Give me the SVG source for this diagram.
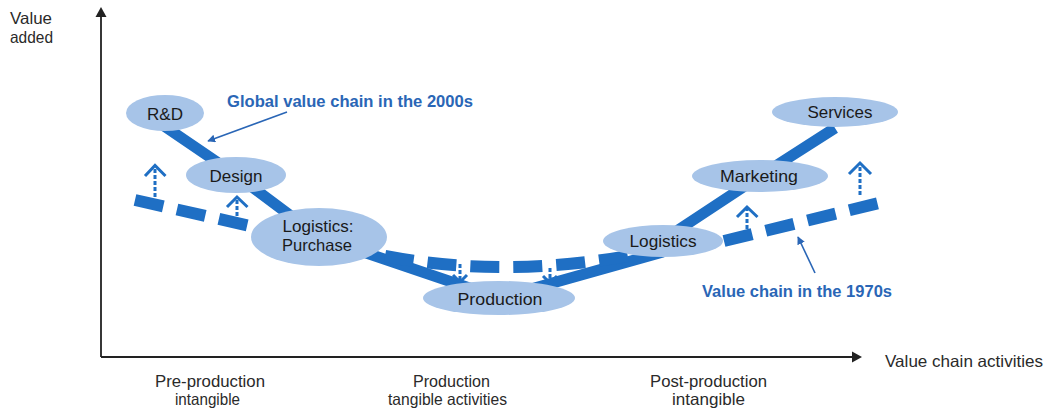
<svg xmlns="http://www.w3.org/2000/svg" width="1045" height="411" viewBox="0 0 1045 411">
<defs>
<style>
.axis{stroke:#222;stroke-width:1.8;fill:none}
.solid{stroke:#1f6fc4;stroke-width:11;fill:none;stroke-linejoin:round}
.dash{stroke:#1f6fc4;stroke-width:12;fill:none;stroke-dasharray:29 14}
.shaft{stroke:#1f6fc4;stroke-width:3;fill:none;stroke-dasharray:4 2}
.chev{stroke:#1f6fc4;stroke-width:3;fill:none;stroke-linejoin:miter}
.ptr{stroke:#2a66b6;stroke-width:1.6;fill:none}
.node{fill:#a7c4e8}
.nt{font-family:"Liberation Sans",Arial,sans-serif;font-size:16.5px;fill:#1a1a1a;text-anchor:middle}
.ax{font-family:"Liberation Sans",Arial,sans-serif;font-size:16.5px;fill:#2a2a2a}
.lbl{font-family:"Liberation Sans",Arial,sans-serif;font-size:16.5px;font-weight:bold;fill:#2a66b6}
</style>
<marker id="ah" viewBox="0 0 10 10" refX="9" refY="5" markerWidth="8" markerHeight="8" orient="auto" markerUnits="userSpaceOnUse">
<path d="M0,0 L10,5 L0,10 z" fill="#2a66b6"/>
</marker>
</defs>
<rect width="1045" height="411" fill="#fff"/>
<g id="axes">
<path class="axis" d="M101,357 L101,14 M101,357 L854,357"/>
<path d="M101,7 L95.5,17 L106.5,17 z" fill="#222"/>
<path d="M862,357 L852,351.5 L852,362.5 z" fill="#222"/>
<text class="ax" x="10" y="24" textLength="42" lengthAdjust="spacingAndGlyphs">Value</text>
<text class="ax" x="10" y="43" textLength="43" lengthAdjust="spacingAndGlyphs">added</text>
<text class="ax" x="885" y="367" textLength="158" lengthAdjust="spacingAndGlyphs">Value chain activities</text>
<text class="ax" x="155" y="387" textLength="110" lengthAdjust="spacingAndGlyphs">Pre-production</text>
<text class="ax" x="175" y="405" textLength="65" lengthAdjust="spacingAndGlyphs">intangible</text>
<text class="ax" x="413" y="387" textLength="77" lengthAdjust="spacingAndGlyphs">Production</text>
<text class="ax" x="388" y="405" textLength="119" lengthAdjust="spacingAndGlyphs">tangible activities</text>
<text class="ax" x="650" y="387" textLength="117" lengthAdjust="spacingAndGlyphs">Post-production</text>
<text class="ax" x="672" y="405" textLength="73" lengthAdjust="spacingAndGlyphs">intangible</text>
</g>
<g id="connectors">
<path class="solid" d="M145,113 L236,175 L319,237 L499,298 L663,252 M663,240 L760,176 L835,128"/>
<path class="dash" d="M135,200 L250,226"/>
<path class="dash" d="M385,256 Q500,278 628,256"/>
<path class="dash" d="M724,241 L879,203"/>
<path class="shaft" d="M155,197 L155,167"/>
<path class="chev" d="M145,176 L155,165.5 L165.5,176"/>
<path class="shaft" d="M237,216 L237,199"/>
<path class="chev" d="M227,207 L237,197 L247.5,207"/>
<path class="shaft" d="M460,264 L460,280"/>
<path class="chev" d="M453,275 L460,282 L467,275"/>
<path class="shaft" d="M550,268 L550,281"/>
<path class="chev" d="M543,276 L550,283 L557,276"/>
<path class="shaft" d="M747,229 L747,209"/>
<path class="chev" d="M737,217 L747,207 L757.5,217"/>
<path class="shaft" d="M860,195 L860,165"/>
<path class="chev" d="M849,174 L860,163 L871,174"/>
<path class="ptr" d="M287,112 L208,141" marker-end="url(#ah)"/>
<path class="ptr" d="M815,273 L798,237" marker-end="url(#ah)"/>
</g>
<g id="node-rd"><ellipse class="node" cx="165" cy="113" rx="39" ry="18"/><text class="nt" x="165" y="120" textLength="36" lengthAdjust="spacingAndGlyphs">R&amp;D</text></g>
<g id="node-design"><ellipse class="node" cx="236" cy="175" rx="50" ry="18"/><text class="nt" x="236" y="182" textLength="53" lengthAdjust="spacingAndGlyphs">Design</text></g>
<g id="node-logistics-purchase"><ellipse class="node" cx="319" cy="237" rx="68" ry="29"/><text class="nt" x="318" y="232" textLength="71" lengthAdjust="spacingAndGlyphs">Logistics:</text><text class="nt" x="317" y="251" textLength="70" lengthAdjust="spacingAndGlyphs">Purchase</text></g>
<g id="node-production"><ellipse class="node" cx="499" cy="298" rx="76" ry="17"/><text class="nt" x="500" y="305" textLength="85" lengthAdjust="spacingAndGlyphs">Production</text></g>
<g id="node-logistics"><ellipse class="node" cx="663" cy="241" rx="60" ry="16"/><text class="nt" x="663" y="247" textLength="67" lengthAdjust="spacingAndGlyphs">Logistics</text></g>
<g id="node-marketing"><ellipse class="node" cx="760" cy="176" rx="68" ry="16"/><text class="nt" x="759" y="182" textLength="78" lengthAdjust="spacingAndGlyphs">Marketing</text></g>
<g id="node-services"><ellipse class="node" cx="835" cy="112" rx="63" ry="15"/><text class="nt" x="840" y="118" textLength="65" lengthAdjust="spacingAndGlyphs">Services</text></g>
<g id="labels">
<text class="lbl" x="227" y="107" textLength="246" lengthAdjust="spacingAndGlyphs">Global value chain in the 2000s</text>
<text class="lbl" x="702" y="297" textLength="190" lengthAdjust="spacingAndGlyphs">Value chain in the 1970s</text>
</g>
</svg>
